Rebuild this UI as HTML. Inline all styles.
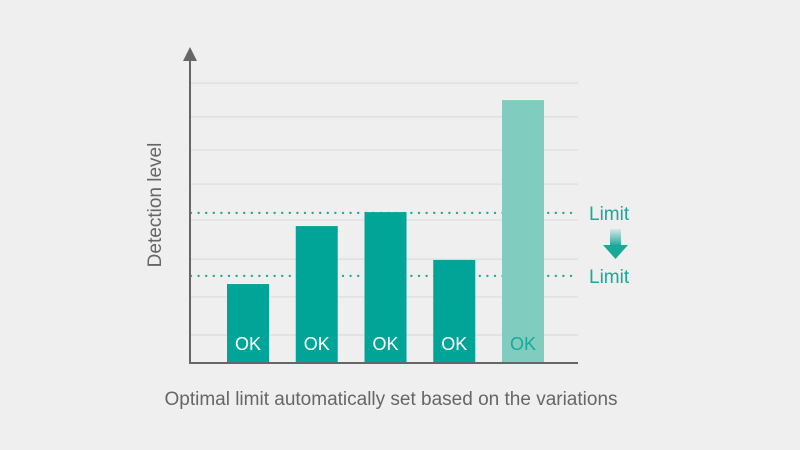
<!DOCTYPE html>
<html><head><meta charset="utf-8"><style>
body{margin:0;background:#efefef;}
svg{display:block;font-family:"Liberation Sans",sans-serif;}
</style></head><body>
<svg id="c" width="800" height="450"></svg>
<script>
const categories=["A","B","C","D","E"];
const values=[2.82,4.89,5.39,3.68,9.39];
const barLabels=["OK","OK","OK","OK","OK"];
const gridValues=[1,2.36,3.71,5.11,6.39,7.61,8.79,10];
const limitValues=[5.36,3.11];
const limitLabels=["Limit","Limit"];
const NS="http://www.w3.org/2000/svg";
const svg=document.getElementById('c');
const x0=190,x1=578,yb=363,yt=83,maxV=10;
const y=v=>yb-(v/maxV)*(yb-yt);
const xs=i=>227+i*68.75;
const bw=42;
function mk(t,a,p){const e=document.createElementNS(NS,t);for(const k in a)e.setAttribute(k,a[k]);(p||svg).appendChild(e);return e;}
const defs=mk('defs',{});
const lg=mk('linearGradient',{id:'ag',x1:0,y1:0,x2:0,y2:1},defs);
mk('stop',{offset:0,'stop-color':'#1aa89a','stop-opacity':0.1},lg);
mk('stop',{offset:1,'stop-color':'#1aa89a','stop-opacity':1},lg);
gridValues.forEach(v=>{const l=mk('line',{x1:x0,x2:x1,y1:y(v),y2:y(v),stroke:'#dcdcdc','stroke-width':1.2});

});
limitValues.forEach((v,i)=>{const l=mk('line',{x1:191,x2:576,y1:y(v),y2:y(v),stroke:'#1aa89a','stroke-width':2.4,'stroke-dasharray':'0 7.6','stroke-linecap':'round'});


const t=mk('text',{x:589,y:y(v)+7,fill:'#1aa89a','font-size':19});t.textContent=limitLabels[i];

});
values.forEach((v,i)=>{const last=i===values.length-1;
const r=mk('rect',{x:xs(i),y:y(v),width:bw,height:yb-y(v),fill:last?'#80cdc0':'#00a598'});


const t=mk('text',{x:xs(i)+bw/2,y:350,fill:last?'#1aa89a':'#fff','font-size':18,'text-anchor':'middle'});t.textContent=barLabels[i];

});
const ar=mk('g',{});


mk('rect',{x:610,y:229,width:11,height:17,fill:'url(#ag)'},ar);
mk('polygon',{points:'603,245 628,245 615.5,259',fill:'#1aa89a'},ar);
const ax=mk('g',{});


mk('line',{x1:x0,x2:x0,y1:56,y2:yb,stroke:'#666','stroke-width':2},ax);
mk('line',{x1:x0-1,x2:x1,y1:yb,y2:yb,stroke:'#666','stroke-width':2},ax);
mk('polygon',{points:'190,47 183,61 197,61',fill:'#666'},ax);
const yl=mk('text',{x:0,y:0,transform:'translate(161,205) rotate(-90)','text-anchor':'middle',fill:'#666','font-size':19});yl.textContent='Detection level';


const xl=mk('text',{x:391,y:405,'text-anchor':'middle',fill:'#666','font-size':19});xl.textContent='Optimal limit automatically set based on the variations';


</script>
</body></html>
